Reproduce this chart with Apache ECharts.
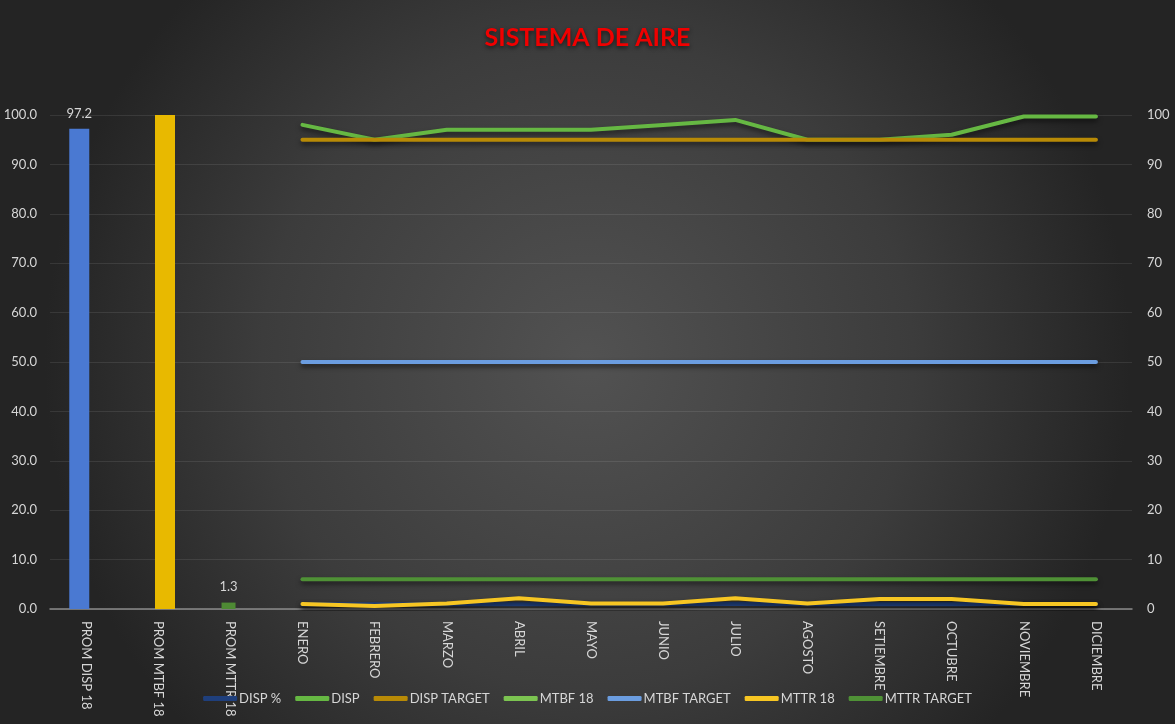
<!DOCTYPE html>
<html>
<head>
<meta charset="utf-8">
<script src="https://cdn.jsdelivr.net/npm/echarts@6/dist/echarts.min.js"></script>
<style>
  html, body { margin: 0; padding: 0; background: #2a2a2a; }
  #chart { width: 1175px; height: 724px; }
</style>
</head>
<body>
<div id="chart"></div>
<script>
// Categories: three yearly averages followed by the months
const categories = ['PROM DISP 18', 'PROM MTBF 18', 'PROM MTTR 18',
  'ENERO', 'FEBRERO', 'MARZO', 'ABRIL', 'MAYO', 'JUNIO', 'JULIO',
  'AGOSTO', 'SETIEMBRE', 'OCTUBRE', 'NOVIEMBRE', 'DICIEMBRE'];

// Yearly averages (bars, left axis)
const promDisp = 97.2;
const promMtbf = 100;
const promMttr = 1.3;

// Monthly series (lines, right axis); first three slots are the average columns
const dispPct     = [null, null, null, 0.98, 0.95, 0.97, 0.97, 0.97, 0.98, 0.99, 0.95, 0.95, 0.96, 0.997, 0.997];
const disp        = [null, null, null, 98, 95, 97, 97, 97, 98, 99, 95, 95, 96, 99.7, 99.7];
const dispTarget  = [null, null, null, 95, 95, 95, 95, 95, 95, 95, 95, 95, 95, 95, 95];
const mtbf18      = [null, null, null, null, null, null, null, null, null, null, null, null, null, null, null];
const mtbfTarget  = [null, null, null, 50, 50, 50, 50, 50, 50, 50, 50, 50, 50, 50, 50];
const mttr18      = [null, null, null, 1, 0.6, 1.1, 2.2, 1.1, 1.1, 2.2, 1.1, 2, 2, 1, 1];
const mttrTarget  = [null, null, null, 6, 6, 6, 6, 6, 6, 6, 6, 6, 6, 6, 6];

const leftTicks = { min: 0, max: 100, interval: 10 };
const rightTicks = { min: 0, max: 100, interval: 10 };

const lineDefs = [
  { name: 'DISP %',      data: dispPct,    color: '#1f3f7c' },
  { name: 'DISP',        data: disp,       color: '#66b843' },
  { name: 'DISP TARGET', data: dispTarget, color: '#b88a06' },
  { name: 'MTBF 18',     data: mtbf18,     color: '#7cc451' },
  { name: 'MTBF TARGET', data: mtbfTarget, color: '#6b9de0' },
  { name: 'MTTR 18',     data: mttr18,     color: '#f7c623' },
  { name: 'MTTR TARGET', data: mttrTarget, color: '#4f9136' }
];

// Each average gets its own bar series, placed only in its own column
function onlyAt(index, value) {
  return categories.map((c, i) => (i === index ? value : null));
}

const chart = echarts.init(document.getElementById('chart'), null, { renderer: 'canvas' });

const labelColor = '#d6d6d6';
const fontFam = 'Lato, "Open Sans", sans-serif';

const barLabel = {
  show: true,
  position: 'top',
  distance: 9,
  color: labelColor,
  fontFamily: fontFam,
  fontSize: 13
};

const barDefs = [
  { name: 'PROM DISP 18', data: onlyAt(0, promDisp), color: '#4a79d2', width: 20, label: true },
  { name: 'PROM MTTR 18', data: onlyAt(2, promMttr), color: '#4e8a34', width: 14, label: true },
  { name: 'PROM MTBF 18', data: onlyAt(1, promMtbf), color: '#e8b900', width: 20, label: false }
];

const option = {
  backgroundColor: {
    type: 'radial', x: 0.5, y: 0.5, r: 0.75,
    colorStops: [
      { offset: 0, color: '#525252' },
      { offset: 0.6, color: '#3c3c3c' },
      { offset: 1, color: '#242424' }
    ]
  },
  animation: false,
  title: {
    text: 'SISTEMA DE AIRE',
    left: 'center',
    top: 20,
    textStyle: {
      color: '#f00000',
      fontFamily: fontFam,
      fontWeight: 'bold',
      fontSize: 25,
      textShadowColor: 'rgba(0,0,0,0.6)',
      textShadowBlur: 4,
      textShadowOffsetY: 2
    }
  },
  legend: {
    bottom: 14,
    left: 'center',
    itemWidth: 34,
    itemHeight: 5,
    itemGap: 14,
    icon: 'roundRect',
    textStyle: { color: labelColor, fontFamily: fontFam, fontSize: 13, padding: [0, 0, 0, -3] },
    data: lineDefs.map(d => d.name),
    z: 10
  },
  grid: { left: 50, right: 43, top: 115, bottom: 115, containLabel: false },
  xAxis: {
    type: 'category',
    data: categories,
    boundaryGap: true,
    axisLine: { show: true, lineStyle: { color: '#8a8a8a', width: 1.5 } },
    axisTick: { show: false },
    axisLabel: {
      rotate: -90,
      interval: 0,
      margin: 12,
      color: labelColor,
      fontFamily: fontFam,
      fontSize: 13
    },
    splitLine: { show: false }
  },
  yAxis: [
    {
      type: 'value',
      min: leftTicks.min, max: leftTicks.max, interval: leftTicks.interval,
      position: 'left',
      axisLine: { show: false },
      axisTick: { show: false },
      axisLabel: {
        color: labelColor, fontFamily: fontFam, fontSize: 13, margin: 13,
        formatter: v => v.toFixed(1)
      },
      splitLine: { show: true, lineStyle: { color: 'rgba(255,255,255,0.09)', width: 1 } }
    },
    {
      type: 'value',
      min: rightTicks.min, max: rightTicks.max, interval: rightTicks.interval,
      position: 'right',
      axisLine: { show: false },
      axisTick: { show: false },
      axisLabel: { color: labelColor, fontFamily: fontFam, fontSize: 13, margin: 15 },
      splitLine: { show: false }
    }
  ],
  series: barDefs.map(b => ({
    name: b.name,
    type: 'bar',
    yAxisIndex: 0,
    barWidth: b.width,
    barGap: '-60%',
    data: b.data,
    itemStyle: { color: b.color },
    label: Object.assign({}, barLabel, { show: b.label }),
    z: 1
  })).concat(lineDefs.map(d => ({
    name: d.name,
    type: 'line',
    yAxisIndex: 1,
    data: d.data,
    showSymbol: false,
    symbol: 'none',
    connectNulls: false,
    lineStyle: {
      color: d.color,
      width: 4,
      cap: 'round',
      join: 'round',
      shadowColor: 'rgba(0,0,0,0.55)',
      shadowBlur: 5,
      shadowOffsetY: 3
    },
    itemStyle: { color: d.color },
    z: 3
  })))
};

chart.setOption(option);
</script>
</body>
</html>
